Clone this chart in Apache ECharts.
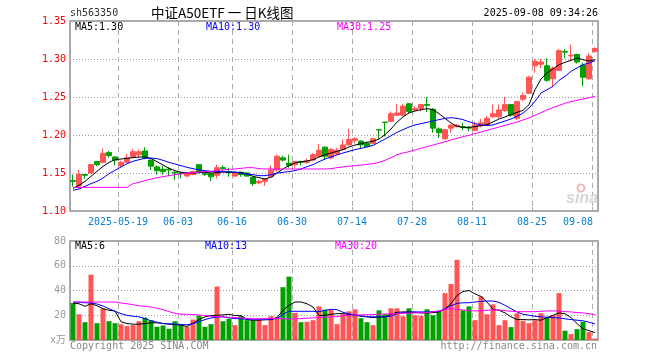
<!DOCTYPE html>
<html><head><meta charset="utf-8">
<script src="https://cdn.jsdelivr.net/npm/echarts@6/dist/echarts.min.js"></script>
<style>html,body{margin:0;padding:0;background:#fff}#c{width:660px;height:360px}</style>
</head><body><div id="c"></div>
<script>
const dates = ['2025-05-07','2025-05-08','2025-05-09','2025-05-12','2025-05-13','2025-05-14','2025-05-15','2025-05-16','2025-05-19','2025-05-20','2025-05-21','2025-05-22','2025-05-23','2025-05-26','2025-05-27','2025-05-28','2025-05-29','2025-05-30',
'2025-06-03','2025-06-04','2025-06-05','2025-06-06','2025-06-09','2025-06-10','2025-06-11','2025-06-12','2025-06-13','2025-06-16','2025-06-17','2025-06-18','2025-06-19','2025-06-20','2025-06-23','2025-06-24','2025-06-25','2025-06-26','2025-06-27','2025-06-30',
'2025-07-01','2025-07-02','2025-07-03','2025-07-04','2025-07-07','2025-07-08','2025-07-09','2025-07-10','2025-07-11','2025-07-14','2025-07-15','2025-07-16','2025-07-17','2025-07-18','2025-07-21','2025-07-22','2025-07-23','2025-07-24','2025-07-25','2025-07-28','2025-07-29','2025-07-30','2025-07-31',
'2025-08-01','2025-08-04','2025-08-05','2025-08-06','2025-08-07','2025-08-08','2025-08-11','2025-08-12','2025-08-13','2025-08-14','2025-08-15','2025-08-18','2025-08-19','2025-08-20','2025-08-21','2025-08-22','2025-08-25','2025-08-26','2025-08-27','2025-08-28','2025-08-29',
'2025-09-01','2025-09-02','2025-09-03','2025-09-04','2025-09-05','2025-09-08'];
const tickDates = ['2025-05-19','2025-06-03','2025-06-16','2025-06-30','2025-07-14','2025-07-28','2025-08-11','2025-08-25','2025-09-08'];

const openP = [1.140,1.133,1.148,1.150,1.165,1.164,1.177,1.171,1.160,1.164,
1.171,1.174,1.179,1.167,1.158,1.155,1.155,1.151,1.150,1.146,
1.148,1.161,1.149,1.149,1.147,1.157,1.152,1.146,1.151,1.150,
1.144,1.137,1.139,1.145,1.154,1.170,1.163,1.161,1.165,1.164,
1.167,1.172,1.184,1.170,1.175,1.181,1.187,1.193,1.192,1.189,
1.189,1.207,1.217,1.218,1.226,1.226,1.241,1.233,1.235,1.240,
1.234,1.208,1.195,1.209,1.211,1.211,1.210,1.206,1.212,1.213,
1.224,1.224,1.232,1.240,1.222,1.247,1.255,1.291,1.293,1.291,
1.274,1.285,1.310,1.304,1.306,1.292,1.274,1.310];
const closeP = [1.139,1.148,1.147,1.161,1.161,1.176,1.173,1.167,1.164,1.170,
1.178,1.178,1.170,1.159,1.153,1.152,1.154,1.150,1.149,1.150,
1.152,1.152,1.148,1.145,1.157,1.156,1.151,1.150,1.148,1.146,
1.136,1.139,1.142,1.154,1.172,1.167,1.160,1.165,1.164,1.166,
1.174,1.180,1.172,1.181,1.180,1.187,1.194,1.195,1.187,1.185,
1.195,1.2065,1.2165,1.228,1.229,1.238,1.231,1.235,1.240,1.239,
1.209,1.203,1.207,1.213,1.213,1.210,1.209,1.213,1.216,1.222,
1.228,1.233,1.240,1.226,1.244,1.252,1.276,1.297,1.296,1.272,
1.288,1.311,1.309,1.305,1.296,1.276,1.304,1.314];
const lowP = [1.132,1.130,1.142,1.149,1.159,1.163,1.170,1.160,1.157,1.163,
1.170,1.171,1.168,1.154,1.148,1.148,1.146,1.141,1.143,1.145,
1.147,1.150,1.146,1.139,1.143,1.151,1.145,1.145,1.145,1.145,
1.133,1.135,1.133,1.144,1.152,1.165,1.157,1.157,1.160,1.162,
1.166,1.171,1.167,1.168,1.174,1.180,1.186,1.189,1.182,1.184,
1.188,1.195,1.198,1.217,1.225,1.225,1.228,1.231,1.231,1.230,
1.203,1.196,1.194,1.203,1.210,1.206,1.205,1.205,1.210,1.212,
1.222,1.222,1.231,1.224,1.220,1.244,1.254,1.282,1.288,1.270,
1.264,1.284,1.301,1.297,1.294,1.264,1.273,1.308];
const highP = [1.148,1.154,1.148,1.162,1.165,1.182,1.179,1.172,1.166,1.175,
1.182,1.181,1.184,1.168,1.160,1.159,1.158,1.152,1.152,1.151,
1.153,1.161,1.151,1.150,1.161,1.160,1.157,1.151,1.151,1.151,
1.145,1.141,1.143,1.160,1.174,1.173,1.174,1.166,1.166,1.169,
1.176,1.188,1.185,1.183,1.183,1.194,1.208,1.197,1.193,1.191,
1.196,1.207,1.217,1.231,1.241,1.241,1.242,1.238,1.241,1.250,
1.235,1.210,1.208,1.214,1.214,1.216,1.212,1.218,1.221,1.225,
1.240,1.240,1.250,1.241,1.245,1.256,1.278,1.300,1.300,1.301,
1.290,1.313,1.313,1.319,1.307,1.295,1.308,1.315];

const ma5 = [1.1298,1.1338,1.139,1.1456,1.1522,1.1588,1.164,1.1675,1.1684,1.1693,
1.1702,1.171,1.171,1.1693,1.1649,1.1605,1.1561,1.1531,1.1509,1.15,
1.15,1.1504,1.1509,1.15,1.1504,1.1513,1.1509,1.1509,1.1509,1.1487,
1.1456,1.1439,1.1421,1.1443,1.15,1.1553,1.1597,1.1632,1.1649,1.1658,
1.1675,1.171,1.1741,1.1763,1.1785,1.1807,1.1842,1.1868,1.1886,1.1904,
1.1917,1.1947,1.2004,1.2079,1.217,1.2237,1.229,1.2316,1.2333,1.2346,
1.2333,1.2281,1.2219,1.2158,1.2114,1.2101,1.2101,1.211,1.2123,1.2136,
1.2171,1.2211,1.2237,1.2268,1.2298,1.2325,1.2399,1.2596,1.2737,1.2816,
1.2868,1.2925,1.2956,1.2982,1.3013,1.2991,1.2974,1.2991];
const ma10 = [1.1272,1.129,1.1325,1.136,1.139,1.1434,1.1491,1.1535,1.1579,1.1623,
1.1654,1.1675,1.1693,1.1697,1.1689,1.1667,1.164,1.1618,1.1596,1.1575,
1.1557,1.154,1.1531,1.1522,1.1518,1.1518,1.1513,1.1513,1.1496,1.1487,
1.1478,1.1465,1.1465,1.1478,1.15,1.1509,1.1518,1.1531,1.1553,1.1583,
1.161,1.1649,1.1684,1.1711,1.1737,1.1763,1.1785,1.1807,1.1825,1.1842,
1.1864,1.1904,1.1947,1.1991,1.2035,1.207,1.2105,1.2132,1.2149,1.2167,
1.2184,1.2202,1.2219,1.2228,1.2219,1.2202,1.2175,1.2149,1.2132,1.2123,
1.2132,1.2158,1.2184,1.2211,1.2246,1.2289,1.2355,1.2443,1.2553,1.2596,
1.264,1.2719,1.2772,1.2838,1.2882,1.2925,1.2947,1.2978];
const ma30 = [1.1311,1.1311,1.1311,1.1311,1.1311,1.1311,1.1311,1.1311,1.1311,1.1311,
1.136,1.1377,1.140,1.142,1.1439,1.1452,1.1465,1.1478,1.1487,1.150,
1.1504,1.1513,1.1518,1.1522,1.1531,1.154,1.1548,1.1553,1.1561,1.157,
1.157,1.1557,1.1553,1.1553,1.1553,1.1553,1.1553,1.1553,1.1553,1.1553,
1.1553,1.1553,1.1553,1.1557,1.157,1.158,1.1588,1.1597,1.1605,1.1614,
1.1623,1.164,1.1667,1.1702,1.1741,1.1763,1.1781,1.1803,1.1825,1.1847,
1.1868,1.189,1.1912,1.1934,1.1956,1.1978,1.1996,1.2018,1.2039,1.2061,
1.2083,1.2105,1.2127,1.2149,1.2171,1.2197,1.2224,1.2259,1.2294,1.2329,
1.2359,1.239,1.2417,1.2439,1.2456,1.2474,1.2491,1.2509];

const volume = [29.9,20.8,14.4,52.8,13.6,25.3,15.2,13.6,12.8,11.2,
12,15.2,18.1,16,10.7,11.7,9.1,15.2,12,10.7,
16.5,19.7,10.7,12.8,43.2,15.2,17.1,12,19.2,16,
16,16.5,12,19.2,18.7,42.7,51.2,21.9,14.4,14.7,
16,27.2,24.5,24.5,12.8,20.8,23.2,24.8,17.6,14.4,
12,24,20.8,25.6,25.6,19.2,25.6,20,19.5,24.8,
20,23.2,37.9,45.3,64.8,24,27.2,16,35.2,20.8,
28.8,12,16,10.4,21.6,15.5,13.6,16,21.6,18.1,
20,37.9,7.5,4.8,8.8,14.7,6.4,1.1];
const vma5 = [29.9,29.3,27.2,29.3,27.7,25.3,24,23.5,14.7,13.3,
12.8,12.8,13.3,13.9,13.9,13.3,12.8,12.5,12,10.9,
13.5,16.5,18.7,19.7,20,20.3,20.8,19.7,19.7,16.5,
16,16,16.3,16.5,18.1,24,28,30.7,30.7,29.3,
26.7,19.7,20,20.8,21.3,21.3,20.8,20,19.2,18.7,
18.1,18.4,18.7,20.8,22.4,22.7,22.7,22.4,21.9,21.9,
22.1,22.7,25.1,29.3,36,39.2,40,37.3,35.2,30.7,
24.8,24,21.9,18.7,16.5,16.5,16.3,16.5,16,18.1,
20,21.9,21.3,18.1,13.3,9.1,7.5,6];
const vma10 = [30.7,30.4,30.1,29.9,29.1,27.5,25.3,23.2,21.3,20,
19.2,18.7,17.3,15.5,14.4,13.3,13.1,12.8,12.5,12.3,
13.2,14.8,16.5,17.8,18.5,18.7,17.9,17.3,17.1,16.8,
16.8,16.8,16.8,16.8,17.3,20.8,23.2,23.2,23.2,23.2,
23.2,22.9,24,24.8,24.5,22.4,21.1,20.3,19.5,18.9,
18.7,18.7,18.7,19.2,21.3,22.1,22.7,22.7,22.7,22.7,
22.9,23.2,25.3,27.7,29.6,30.1,30.1,30.7,31.2,31.5,
31.5,30.4,28,25.3,22.7,20.8,20,19.2,18.7,18.4,
18.1,17.9,17.1,16.5,16,15.5,14.4,13];
const vma30 = [30.7,30.7,30.7,30.7,30.7,30.7,30.7,30.7,29.9,29.3,
28.5,27.7,27.2,26.7,25.6,24.5,22.9,21.6,20.8,20.8,
20.5,20.3,19.7,19.2,18.9,18.7,18.4,18.1,17.9,17.3,
17.1,17.1,17.1,17.3,17.3,17.1,16.8,17.1,17.3,17.6,
17.9,18.1,18.4,18.7,18.9,19.7,20,20.3,20.3,20.5,
20.5,20.8,21.1,21.1,21.3,21.6,21.6,21.9,21.9,22.1,
22.9,23.5,24.8,25.3,24.8,24.3,23.7,23.5,23.5,24,
24.3,24.3,23.7,23.2,22.9,22.9,22.9,22.9,23.2,23.5,
23.5,23.5,22.9,22.7,22.1,21.9,21.3,20.4];

const UP = '#FF5555', DOWN = '#00A000';
const MONO = '"DejaVu Sans Mono", "Noto Sans CJK SC", monospace';
const last = dates.length - 1;
const isTick = (i) => tickDates.indexOf(dates[i]) >= 0;
const ohlc = dates.map((d, i) => [openP[i], closeP[i], lowP[i], highP[i]]);
const volData = volume.map((v, i) => ({ value: v, itemStyle: { color: closeP[i] >= openP[i] ? UP : DOWN } }));

const chart = echarts.init(document.getElementById('c'), null, { renderer: 'canvas' });
const dash = { color: '#aaa', type: [5, 4], width: 1 };
const dots = { color: '#999', type: [1, 2], width: 1 };

function txt(text, x, y, color, font, align) {
  return { type: 'text', x: x, y: y, z: 100, silent: true,
    style: { text: text, fill: color, font: font, align: align || 'left', verticalAlign: 'middle' } };
}

const option = {
  animation: false,
  backgroundColor: '#fff',
  grid: [
    { left: 70, top: 21, width: 528, height: 190, show: true, borderColor: '#aaa', borderWidth: 2 },
    { left: 70, top: 241, width: 528, height: 99, show: true, borderColor: '#aaa', borderWidth: 2 }
  ],
  xAxis: [
    { type: 'category', gridIndex: 0, data: dates, boundaryGap: true,
      axisLine: { show: false },
      axisTick: { show: true, inside: true, length: 4, interval: (i) => isTick(i), lineStyle: { color: '#aaa' } },
      axisLabel: { interval: (i) => isTick(i), margin: 6, color: '#0A80D0', fontFamily: MONO, fontSize: 10,
        formatter: (v, i) => {
          if (v === dates[last]) return '{b|' + v.slice(5) + '}';
          if (v === tickDates[0]) return '{a|' + v + '}';
          return '{a|' + v.slice(5) + '}';
        },
        rich: { a: { padding: [0, 6, 0, 0], color: '#0A80D0', fontFamily: MONO, fontSize: 10 },
                b: { padding: [0, 34, 0, 0], color: '#0A80D0', fontFamily: MONO, fontSize: 10 } } },
      splitLine: { show: true, interval: (i) => isTick(i), lineStyle: dash } },
    { type: 'category', gridIndex: 1, data: dates, boundaryGap: true,
      axisLine: { show: false }, axisTick: { show: false }, axisLabel: { show: false },
      splitLine: { show: true, interval: (i) => isTick(i), lineStyle: dash } }
  ],
  yAxis: [
    { type: 'value', gridIndex: 0, min: 1.10, max: 1.35, interval: 0.05,
      axisLine: { show: false }, axisTick: { show: false },
      axisLabel: { color: '#FF0000', fontFamily: MONO, fontSize: 10, margin: 4, formatter: (v) => v.toFixed(2) },
      splitLine: { show: true, showMinLine: false, showMaxLine: false, lineStyle: dots } },
    { type: 'value', gridIndex: 1, min: 0, max: 80, interval: 20,
      axisLine: { show: false }, axisTick: { show: false },
      axisLabel: { color: '#999', fontFamily: MONO, fontSize: 10, margin: 4, formatter: (v) => v === 0 ? 'x万' : String(v) },
      splitLine: { show: true, showMinLine: false, showMaxLine: false, lineStyle: dots } }
  ],
  series: [
    { type: 'candlestick', xAxisIndex: 0, yAxisIndex: 0, data: ohlc, barWidth: 5,
      itemStyle: { color: UP, color0: DOWN, borderColor: UP, borderColor0: DOWN, borderWidth: 1 } },
    { type: 'line', xAxisIndex: 0, yAxisIndex: 0, data: ma5, symbol: 'none', z: 5, lineStyle: { color: '#000', width: 1 } },
    { type: 'line', xAxisIndex: 0, yAxisIndex: 0, data: ma10, symbol: 'none', z: 5, lineStyle: { color: '#0000FF', width: 1 } },
    { type: 'line', xAxisIndex: 0, yAxisIndex: 0, data: ma30, symbol: 'none', z: 5, lineStyle: { color: '#FF00FF', width: 1 } },
    { type: 'bar', xAxisIndex: 1, yAxisIndex: 1, data: volData, barWidth: 5 },
    { type: 'line', xAxisIndex: 1, yAxisIndex: 1, data: vma5, symbol: 'none', z: 5, lineStyle: { color: '#000', width: 1 } },
    { type: 'line', xAxisIndex: 1, yAxisIndex: 1, data: vma10, symbol: 'none', z: 5, lineStyle: { color: '#0000FF', width: 1 } },
    { type: 'line', xAxisIndex: 1, yAxisIndex: 1, data: vma30, symbol: 'none', z: 5, lineStyle: { color: '#FF00FF', width: 1 } }
  ],
  graphic: [
    txt('sh563350', 70, 13, '#333', '10px ' + MONO),
    txt('中证A50ETF 一 日K线图', 151, 13, '#000', '13.5px "Noto Sans CJK SC"'),
    txt('2025-09-08 09:34:26', 598, 13, '#000', '10px ' + MONO, 'right'),
    txt('MA5:' + ma5[last].toFixed(2), 75, 27, '#000', '10px ' + MONO),
    txt('MA10:' + ma10[last].toFixed(2), 206, 27, '#0000FF', '10px ' + MONO),
    txt('MA30:' + ma30[last].toFixed(2), 337, 27, '#FF00FF', '10px ' + MONO),
    txt('MA5:' + Math.round(vma5[last]), 75, 246, '#000', '10px ' + MONO),
    txt('MA10:' + Math.round(vma10[last]), 205, 246, '#0000FF', '10px ' + MONO),
    txt('MA30:' + Math.round(vma30[last]), 335, 246, '#FF00FF', '10px ' + MONO),
    txt('Copyright 2025 SINA.COM', 70, 346, '#888', '10px ' + MONO),
    txt('http://finance.sina.com.cn', 597, 346, '#888', '10px ' + MONO, 'right'),
    { type: 'circle', z: 1, silent: true, shape: { cx: 581, cy: 188, r: 3.5 }, style: { fill: 'none', stroke: '#F5B8B8', lineWidth: 2 } },
    txt('sina', 566, 199, '#d6d6d6', 'italic bold 16px "Liberation Sans"')
  ]
};
chart.setOption(option);
</script>
</body></html>
